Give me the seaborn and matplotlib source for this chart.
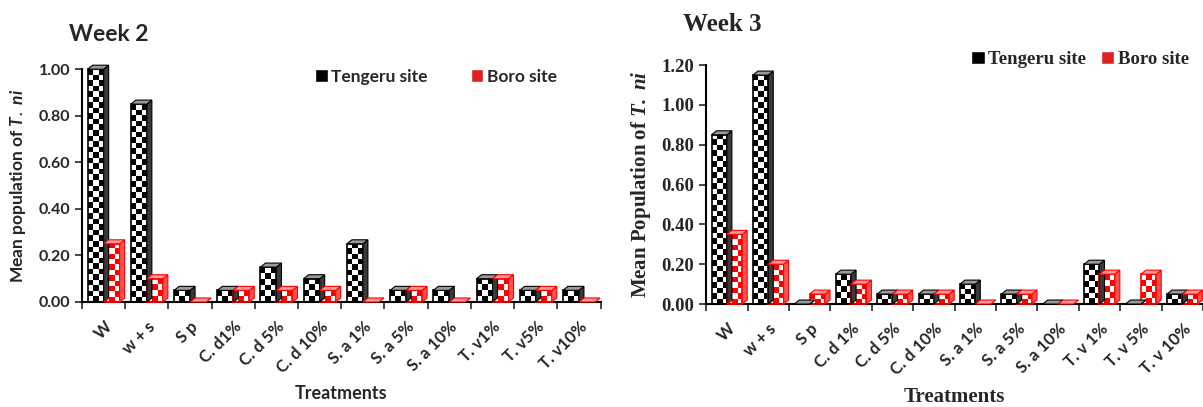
import matplotlib
matplotlib.use("Agg")
import matplotlib.pyplot as plt
from matplotlib.colors import ListedColormap
from matplotlib.patches import Polygon
import seaborn as sns
import numpy as np
import pandas as pd

# treatments (tick labels differ slightly between the two panels)
labels_w2 = ["W", "w + s", "S p", "C. d1%", "C. d 5%", "C. d 10%", "S. a 1%",
             "S. a 5%", "S. a 10%", "T. v1%", "T. v5%", "T. v10%"]
labels_w3 = ["W", "w + s", "S p", "C. d 1%", "C. d 5%", "C. d 10%", "S. a 1%",
             "S. a 5%", "S. a 10%", "T. v 1%", "T. v 5%", "T. v 10%"]
sites = ["Tengeru site", "Boro site"]

tengeru_w2 = [1.00, 0.85, 0.05, 0.05, 0.15, 0.10, 0.25, 0.05, 0.05, 0.10, 0.05, 0.05]
boro_w2 = [0.25, 0.10, 0.00, 0.05, 0.05, 0.05, 0.00, 0.05, 0.00, 0.10, 0.05, 0.00]
tengeru_w3 = [0.85, 1.15, 0.00, 0.15, 0.05, 0.05, 0.10, 0.05, 0.00, 0.20, 0.00, 0.05]
boro_w3 = [0.35, 0.20, 0.05, 0.10, 0.05, 0.05, 0.00, 0.05, 0.00, 0.15, 0.15, 0.05]

SANS = "Lato"
SERIF = "Liberation Serif"

sns.set_theme(style="ticks")
plt.rcParams["mathtext.fontset"] = "custom"
plt.rcParams["mathtext.it"] = "Lato:italic:bold"
plt.rcParams["mathtext.bfit"] = "Liberation Serif:italic:bold"


def long_df(labels, teng, boro):
    return pd.DataFrame({
        "treatment": labels * 2,
        "site": [sites[0]] * len(labels) + [sites[1]] * len(labels),
        "value": teng + boro,
    })


def checker_fill(ax, cell_px, depth_px=5):
    # checkerboard texture inside every bar plus a small 3D side/top face
    fig = ax.figure
    fig.canvas.draw()
    xl, yl = ax.get_xlim(), ax.get_ylim()
    inv = ax.transData.inverted()
    o = inv.transform((0, 0))
    d = inv.transform((depth_px, depth_px * 0.8))
    dx, dy = d[0] - o[0], d[1] - o[1]
    for bar in list(ax.patches):
        h = bar.get_height()
        fc = bar.get_facecolor()
        red = fc[0] > 0.5 and fc[1] < 0.5
        edge = "#ff0000" if red else "black"
        x0, y0 = bar.get_x(), bar.get_y()
        x1, y1 = x0 + bar.get_width(), y0 + h
        side = Polygon([(x1, y0), (x1 + dx, y0 + dy), (x1 + dx, y1 + dy), (x1, y1)],
                       closed=True, facecolor="#ff5050" if red else "#3a3a3a",
                       edgecolor=edge, linewidth=0.8, zorder=3, clip_on=False)
        top = Polygon([(x0, y1), (x0 + dx, y1 + dy), (x1 + dx, y1 + dy), (x1, y1)],
                      closed=True, facecolor="#ff9a9a" if red else "#9a9a9a",
                      edgecolor=edge, linewidth=0.8, zorder=3, clip_on=False)
        ax.add_patch(side)
        ax.add_patch(top)
        if h <= 0:
            bar.set_visible(False)
            continue
        p0 = ax.transData.transform((x0, y0))
        p1 = ax.transData.transform((x1, y1))
        nx = max(1, int(round(abs(p1[0] - p0[0]) / cell_px)))
        ny = max(1, int(round(abs(p1[1] - p0[1]) / cell_px)))
        ii, jj = np.indices((ny, nx))
        board = (ii + jj) % 2
        cmap = ListedColormap(["white", "#ff0000"] if red else ["white", "black"])
        im = ax.imshow(board, extent=[x0, x1, y0, y1], cmap=cmap, aspect="auto",
                       interpolation="nearest", origin="lower", zorder=2.5)
        im.set_clip_path(bar)
        bar.set_edgecolor(edge)
        bar.set_linewidth(1.2)
        bar.set_zorder(3)
        bar.set_facecolor("none")
        bar.set_clip_on(False)
    ax.set_xlim(xl)
    ax.set_ylim(yl)


def style_axis(ax, labels, font, ymax, yfmt_size, lab_size):
    ax.set_ylim(0, ymax)
    ax.set_xlim(-0.5, len(labels) - 0.5)
    ax.set_yticks(np.arange(0, ymax + 0.001, 0.2))
    ax.set_yticklabels([f"{v:.2f}" for v in np.arange(0, ymax + 0.001, 0.2)],
                       fontfamily=font, fontweight="bold", fontsize=yfmt_size)
    ax.set_xticks(range(len(labels)))
    ax.set_xticklabels(labels, rotation=45, ha="right", rotation_mode="anchor",
                       fontfamily=SANS, fontweight="bold", fontsize=lab_size)
    ax.set_xticks(np.arange(-0.5, len(labels), 1), minor=True)
    ax.tick_params(axis="x", which="major", length=0, pad=12)
    ax.tick_params(axis="x", which="minor", length=5, width=1.2, direction="out")
    ax.tick_params(axis="y", length=5, width=1.2, direction="out")
    for s in ["top", "right"]:
        ax.spines[s].set_visible(False)
    for s in ["left", "bottom"]:
        ax.spines[s].set_linewidth(1.5)
        ax.spines[s].set_color("black")


fig = plt.figure(figsize=(12.03, 4.07), dpi=100)
ax1 = fig.add_axes([0.0682, 0.258, 0.431, 0.572])
ax2 = fig.add_axes([0.587, 0.253, 0.413, 0.587])

pal = {sites[0]: "black", sites[1]: "#ff0000"}

sns.barplot(data=long_df(labels_w2, tengeru_w2, boro_w2), x="treatment", y="value",
            hue="site", palette=pal, width=0.74, ax=ax1)
sns.barplot(data=long_df(labels_w3, tengeru_w3, boro_w3), x="treatment", y="value",
            hue="site", palette=pal, width=0.74, ax=ax2)

style_axis(ax1, labels_w2, SANS, 1.0, 11.5, 12)
style_axis(ax2, labels_w3, SERIF, 1.2, 13.5, 12)

# legends
for ax, font, loc, size in [(ax1, SANS, (0.42, 1.07), 12.5), (ax2, SERIF, (0.5, 1.13), 13.5)]:
    h, l = ax.get_legend_handles_labels()
    ax.legend(h, l, loc="upper left", bbox_to_anchor=loc, ncol=2, frameon=False,
              handlelength=0.7, handleheight=0.7, handletextpad=0.2,
              columnspacing=2.5 if ax is ax1 else 0.8,
              prop={"family": font, "weight": "bold", "size": size})

checker_fill(ax1, 5.5)
checker_fill(ax2, 5.5)

ax1.set_xlabel("Treatments", fontfamily=SANS, fontweight="bold", fontsize=13, labelpad=6)
ax1.set_ylabel(r"Mean population of $\mathit{T.}$ $\mathit{ni}$", fontfamily=SANS,
               fontweight="bold", fontsize=12.5, labelpad=8)
ax2.set_xlabel("Treatments", fontfamily=SERIF, fontweight="bold", fontsize=15, labelpad=6)
ax2.set_ylabel(r"Mean Population of $\mathbfit{T.}$ $\mathbfit{ni}$", fontfamily=SERIF,
               fontweight="bold", fontsize=15, labelpad=6)

fig.text(0.057, 0.9, "Week 2", fontfamily=SANS, fontweight="bold", fontsize=16.5)
fig.text(0.568, 0.925, "Week 3", fontfamily=SERIF, fontweight="bold", fontsize=18)

fig.savefig("out.png", dpi=100)
